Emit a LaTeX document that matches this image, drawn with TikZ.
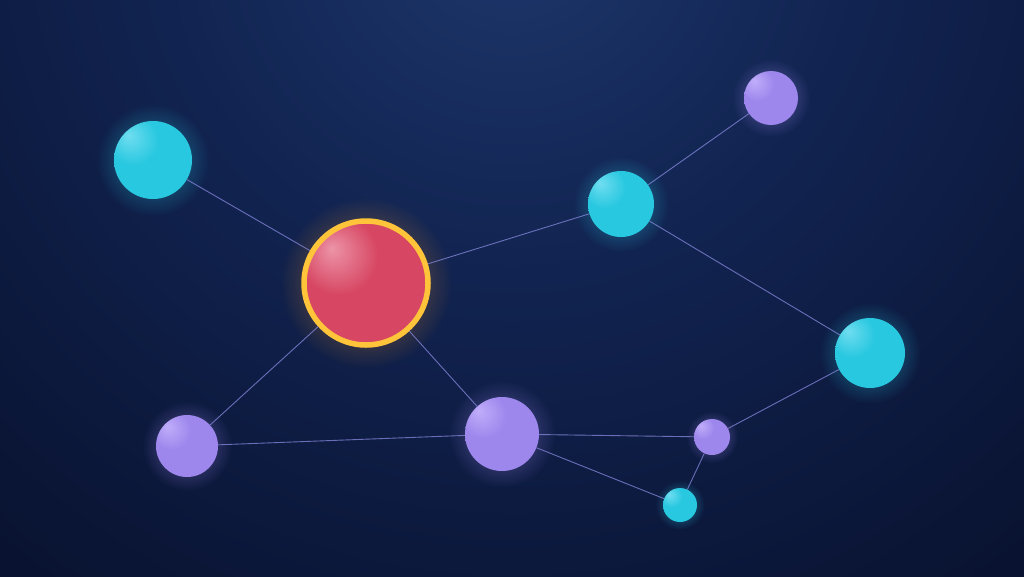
\documentclass[tikz,border=0pt]{standalone}
\usetikzlibrary{fadings}
\definecolor{bgdark}{HTML}{070E28}
\definecolor{bgmid}{HTML}{112350}
\definecolor{bgtop}{HTML}{1D376B}
\definecolor{cyanA}{HTML}{70DDF0}
\definecolor{cyanB}{HTML}{28C8E0}
\definecolor{cyanC}{HTML}{17A6C6}
\definecolor{purA}{HTML}{C0AEFA}
\definecolor{purB}{HTML}{9D86EC}
\definecolor{purC}{HTML}{7A5ED6}
\definecolor{redA}{HTML}{EC94A8}
\definecolor{redB}{HTML}{D74662}
\definecolor{redC}{HTML}{C2325A}
\definecolor{ringc}{HTML}{FFC43A}
\definecolor{glowo}{HTML}{FF9A20}
\definecolor{edgec}{HTML}{8A8AE0}
\pgfdeclareradialshading{bgshade}{\pgfpoint{0bp}{0bp}}{color(0bp)=(bgtop); color(10bp)=(bgmid); color(26bp)=(bgdark); color(100bp)=(bgdark)}
\pgfdeclareradialshading{cyanball}{\pgfpoint{-16bp}{16bp}}{color(0bp)=(cyanA); color(16bp)=(cyanB); color(45bp)=(cyanB); color(75bp)=(cyanC)}
\pgfdeclareradialshading{purball}{\pgfpoint{-16bp}{16bp}}{color(0bp)=(purA); color(16bp)=(purB); color(45bp)=(purB); color(75bp)=(purC)}
\pgfdeclareradialshading{redball}{\pgfpoint{-14bp}{14bp}}{color(0bp)=(redA); color(16bp)=(redB); color(45bp)=(redB); color(75bp)=(redC)}
\tikzfading[name=glowfade, inner color=transparent!45, outer color=transparent!100]
\tikzset{
  ball/.style={circle, inner sep=0pt, draw=none},
  cyanball/.style={ball, shading=cyanball},
  purball/.style={ball, shading=purball},
  redball/.style={ball, shading=redball},
  link/.style={draw=edgec, line width=0.9pt, opacity=0.75},
}
\begin{document}
\begin{tikzpicture}[x=1pt,y=-1pt]
\useasboundingbox (0,0) rectangle (1024,576);
\begin{scope}
\clip (0,0) rectangle (1024,576);
\fill[bgdark] (0,0) rectangle (1024,576);
\shade[shading=bgshade] (512,-80) circle (900);
\end{scope}
% glows
\foreach \x/\y/\r/\c in {153/160/39/cyanB, 621/204/33/cyanB, 870/353/35/cyanB, 680/505/17/cyanB,
  771/98/27/purB, 187/446/31/purB, 502/434/37/purB, 712/437/18/purB}{
  \fill[\c, path fading=glowfade] (\x,\y) circle ({\r*1.45});
}
\fill[glowo, path fading=glowfade] (366,283) circle (86);
% nodes
\node[cyanball, minimum size=78pt] (c1) at (153,160) {};
\node[redball, minimum size=124pt, draw=ringc, line width=5.5pt] (r) at (366,283) {};
\node[cyanball, minimum size=66pt] (c2) at (621,204) {};
\node[purball, minimum size=54pt] (p1) at (771,98) {};
\node[cyanball, minimum size=70pt] (c3) at (870,353) {};
\node[purball, minimum size=62pt] (p2) at (187,446) {};
\node[purball, minimum size=74pt] (p3) at (502,434) {};
\node[purball, minimum size=36pt] (p4) at (712,437) {};
\node[cyanball, minimum size=34pt] (c4) at (680,505) {};
% links
\path[link] (c1) -- (r);
\path[link] (r) -- (c2);
\path[link] (c2) -- (p1);
\path[link] (c2) -- (c3);
\path[link] (r) -- (p2);
\path[link] (r) -- (p3);
\path[link] (p2) -- (p3);
\path[link] (p3) -- (p4);
\path[link] (p3) -- (c4);
\path[link] (p4) -- (c4);
\path[link] (p4) -- (c3);
\end{tikzpicture}
\end{document}
